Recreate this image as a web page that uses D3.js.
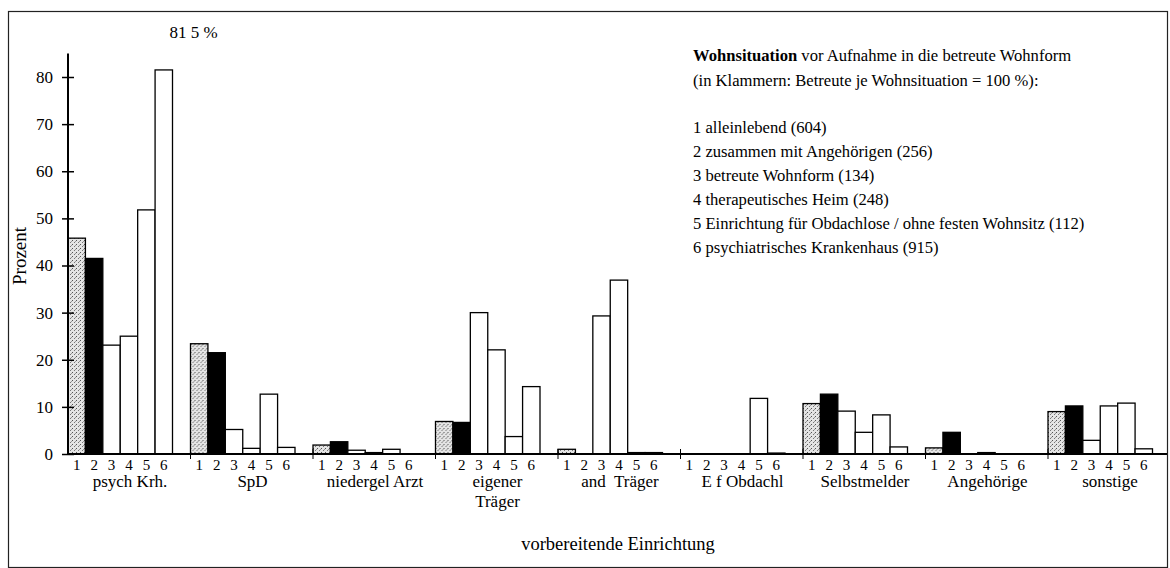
<!DOCTYPE html>
<html>
<head>
<meta charset="utf-8">
<script src="https://cdn.jsdelivr.net/npm/d3@7"></script>
<style>
  body { margin: 0; background: #fff; }
</style>
</head>
<body>
<svg id="chart" width="1170" height="568"></svg>
<script>
// vorbereitende Einrichtung (groups)
var groups = ["psych Krh.", "SpD", "niedergel Arzt", "eigener Träger", "and Träger",
              "E f Obdachl", "Selbstmelder", "Angehörige", "sonstige"];
var groupLabels = [["psych Krh."], ["SpD"], ["niedergel Arzt"], ["eigener", "Träger"], ["and  Träger"],
                   ["E f Obdachl"], ["Selbstmelder"], ["Angehörige"], ["sonstige"]];
var seriesKeys = ["1", "2", "3", "4", "5", "6"];
var seriesNames = ["alleinlebend (604)", "zusammen mit Angehörigen (256)", "betreute Wohnform (134)",
                   "therapeutisches Heim (248)", "Einrichtung für Obdachlose / ohne festen Wohnsitz (112)",
                   "psychiatrisches Krankenhaus (915)"];

// Prozent je Wohnsituation
var s1 = [45.8, 23.4, 1.9, 6.9, 1.0, 0, 10.7, 1.3, 9.0];
var s2 = [41.5, 21.5, 2.6, 6.7, 0, 0, 12.7, 4.6, 10.2];
var s3 = [23.1, 5.2, 0.8, 30.0, 29.3, 0, 9.1, 0, 2.9];
var s4 = [25.0, 1.2, 0.3, 22.1, 36.9, 0, 4.6, 0.3, 10.2];
var s5 = [51.8, 12.7, 1.0, 3.7, 0.3, 11.8, 8.3, 0, 10.8];
var s6 = [81.5, 1.4, 0, 14.3, 0.3, 0.2, 1.5, 0, 1.1];
var series = [s1, s2, s3, s4, s5, s6];

var yTicks = [0, 10, 20, 30, 40, 50, 60, 70, 80];

var FONT = "'Liberation Serif', 'Times New Roman', 'DejaVu Serif', serif";

var svg = d3.select("#chart").attr("font-family", FONT);

// stippled fill for series 1
var defs = svg.append("defs");
var pat = defs.append("pattern")
  .attr("id", "stipple")
  .attr("patternUnits", "userSpaceOnUse")
  .attr("width", 4).attr("height", 4);
pat.append("rect").attr("width", 4).attr("height", 4).attr("fill", "#e4e4e4");
pat.append("rect").attr("x", 0).attr("y", 0).attr("width", 1).attr("height", 1).attr("fill", "#555");
pat.append("rect").attr("x", 2).attr("y", 2).attr("width", 1).attr("height", 1).attr("fill", "#777");
pat.append("rect").attr("x", 3).attr("y", 1).attr("width", 1).attr("height", 1).attr("fill", "#999");

var fills = ["url(#stipple)", "#000", "#fff", "#fff", "#fff", "#fff"];

// frame
svg.append("rect")
  .attr("x", 8.5).attr("y", 11.5)
  .attr("width", 1159).attr("height", 556)
  .attr("fill", "none").attr("stroke", "#222").attr("stroke-width", 1.2);

var x0 = 68, yBase = 454;
var step = 122.5;

var x = d3.scaleBand()
  .domain(groups)
  .range([x0, x0 + step * groups.length])
  .paddingInner(0).paddingOuter(0);

var xs = d3.scaleBand()
  .domain(seriesKeys)
  .range([0, 104.5])
  .padding(0);

var y = d3.scaleLinear()
  .domain([0, 80])
  .range([yBase, 77]);

// bars
var g = svg.append("g");
groups.forEach(function(grp, gi) {
  var gg = g.append("g").attr("transform", "translate(" + x(grp) + ",0)");
  gg.selectAll("rect")
    .data(seriesKeys.map(function(k, si) { return { k: k, si: si, v: series[si][gi] }; }))
    .enter().append("rect")
    .filter(function(d) { return d.v > 0; })
    .attr("x", function(d) { return xs(d.k); })
    .attr("y", function(d) { return y(d.v); })
    .attr("width", xs.bandwidth())
    .attr("height", function(d) { return yBase - y(d.v); })
    .attr("fill", function(d) { return fills[d.si]; })
    .attr("stroke", "#000")
    .attr("stroke-width", 1.3);

  // bar numbers
  gg.selectAll("text.num")
    .data(seriesKeys)
    .enter().append("text")
    .attr("class", "num")
    .attr("x", function(k) { return xs(k) + xs.bandwidth() / 2; })
    .attr("y", 470)
    .attr("text-anchor", "middle")
    .style("font-size", "15px")
    .text(function(k) { return k; });

  // group label
  gg.append("text")
    .attr("x", 62)
    .attr("y", 487)
    .attr("text-anchor", "middle")
    .style("font-size", "17px")
    .style("white-space", "pre")
    .selectAll("tspan")
    .data(groupLabels[gi])
    .enter().append("tspan")
    .attr("x", 62)
    .attr("dy", function(d, i) { return i ? 20 : 0; })
    .text(function(d) { return d; });
});

// x baseline and group ticks
svg.append("line")
  .attr("x1", x0).attr("x2", 1167)
  .attr("y1", yBase).attr("y2", yBase)
  .attr("stroke", "#000").attr("stroke-width", 2);
svg.selectAll("line.gtick")
  .data(groups.slice(1))
  .enter().append("line")
  .attr("class", "gtick")
  .attr("x1", function(d) { return x(d); })
  .attr("x2", function(d) { return x(d); })
  .attr("y1", yBase - 5).attr("y2", yBase + 5)
  .attr("stroke", "#000").attr("stroke-width", 1);

// y axis
var yAxis = d3.axisLeft(y).tickValues(yTicks).tickSize(6).tickPadding(9);
var ya = svg.append("g")
  .attr("transform", "translate(" + x0 + ",0)")
  .call(yAxis)
  .attr("font-family", FONT)
  .attr("font-size", 17);
ya.select(".domain").remove();
ya.selectAll(".tick line").attr("x1", -6).attr("x2", 6).attr("stroke-width", 1.5);
ya.append("line")
  .attr("x1", 0).attr("x2", 0)
  .attr("y1", y(85)).attr("y2", yBase)
  .attr("stroke", "#000").attr("stroke-width", 2);

// truncated bar label
svg.append("text")
  .attr("x", x(groups[0]) + xs("6") + xs.bandwidth() + 21)
  .attr("y", 38)
  .attr("text-anchor", "middle")
  .style("font-size", "17px")
  .text("81 5 %");

// axis titles
svg.append("text")
  .attr("transform", "translate(26,256) rotate(-90)")
  .attr("text-anchor", "middle")
  .style("font-size", "19px")
  .text("Prozent");

svg.append("text")
  .attr("x", 618).attr("y", 550)
  .attr("text-anchor", "middle")
  .style("font-size", "18.5px")
  .text("vorbereitende Einrichtung");

// legend
var lx = 693;
var t = svg.append("text").attr("x", lx).attr("y", 61).style("font-size", "16.6px");
t.append("tspan").style("font-weight", "bold").text("Wohnsituation");
t.append("tspan").text(" vor Aufnahme in die betreute Wohnform");
svg.append("text").attr("x", lx).attr("y", 86).style("font-size", "16.6px")
  .text("(in Klammern: Betreute je Wohnsituation = 100 %):");

svg.selectAll("text.leg")
  .data(seriesNames)
  .enter().append("text")
  .attr("class", "leg")
  .attr("x", lx)
  .attr("y", function(d, i) { return 133 + i * 24; })
  .style("font-size", "16.6px")
  .text(function(d, i) { return seriesKeys[i] + " " + d; });
</script>
</body>
</html>
